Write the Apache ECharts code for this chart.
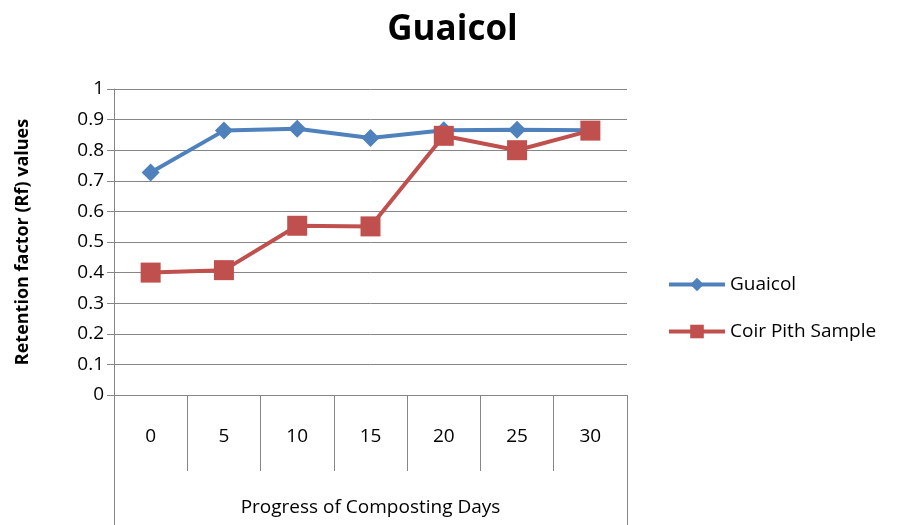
<!DOCTYPE html>
<html>
<head>
<meta charset="utf-8">
<script src="https://cdn.jsdelivr.net/npm/echarts@6/dist/echarts.min.js"></script>
<style>
  html, body { margin: 0; padding: 0; background: #fff; }
  #chart { width: 905px; height: 525px; }
</style>
</head>
<body>
<div id="chart"></div>
<script>
// composting days (x categories)
var days = ['0', '5', '10', '15', '20', '25', '30'];
// Rf values
var guaicol = [0.727, 0.864, 0.870, 0.840, 0.865, 0.867, 0.865];
var coirPith = [0.400, 0.408, 0.553, 0.551, 0.847, 0.800, 0.864];
var seriesNames = ['Guaicol', 'Coir Pith Sample'];
var axisGroupLabel = ['Progress of Composting Days'];

var font = 'Open Sans';
var chart = echarts.init(document.getElementById('chart'));

var option = {
    animation: false,
    title: {
        text: 'Guaicol',
        left: 'center',
        top: 8,
        textStyle: { fontSize: 35, fontWeight: 'bold', color: '#000', fontFamily: font }
    },
    legend: {
        orient: 'vertical',
        left: 662,
        top: 270,
        itemWidth: 56,
        itemHeight: 17,
        itemGap: 28,
        lineStyle: { width: 4 },
        textStyle: { fontSize: 19, color: '#000', fontFamily: font },
        data: seriesNames
    },
    grid: { left: 114, right: 278, top: 89, bottom: 130 },
    xAxis: [
        {
            type: 'category',
            data: days,
            boundaryGap: true,
            axisLine: { show: true, lineStyle: { color: '#868686' } },
            axisTick: { show: true, length: 76, lineStyle: { color: '#868686' } },
            axisLabel: { margin: 32, fontSize: 19, color: '#000', fontFamily: font }
        },
        {
            type: 'category',
            data: axisGroupLabel,
            position: 'bottom',
            boundaryGap: true,
            axisLine: { show: false },
            axisTick: { show: true, length: 130, lineStyle: { color: '#868686' } },
            axisLabel: { margin: 103, fontSize: 19, color: '#000', fontFamily: font }
        }
    ],
    yAxis: {
        type: 'value',
        min: 0,
        max: 1,
        interval: 0.1,
        name: 'Retention factor (Rf) values',
        nameLocation: 'middle',
        nameGap: 82,
        nameTextStyle: { fontSize: 18, fontWeight: 'bold', color: '#000', fontFamily: font },
        axisLine: { show: true, lineStyle: { color: '#868686' } },
        axisTick: { show: true, length: 7, lineStyle: { color: '#868686' } },
        axisLabel: { fontSize: 19, color: '#000', fontFamily: font, margin: 10 },
        splitLine: { lineStyle: { color: '#868686', width: 1 } }
    },
    series: [
        {
            name: seriesNames[0],
            type: 'line',
            data: guaicol,
            color: '#4F81BD',
            symbol: 'diamond',
            symbolSize: 18,
            lineStyle: { width: 4 },
            itemStyle: { color: '#4F81BD' }
        },
        {
            name: seriesNames[1],
            type: 'line',
            data: coirPith,
            color: '#C0504D',
            symbol: 'rect',
            symbolSize: 20,
            lineStyle: { width: 4 },
            itemStyle: { color: '#C0504D' }
        }
    ]
};

chart.setOption(option);
</script>
</body>
</html>
